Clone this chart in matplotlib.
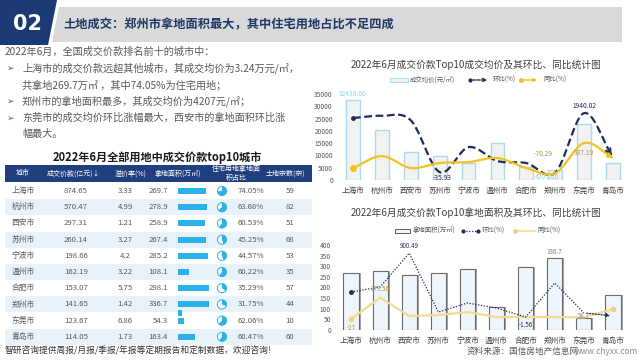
import numpy as np
import matplotlib.pyplot as plt
from matplotlib.patches import Rectangle, Polygon, Wedge, Circle

plt.rcParams['font.family'] = ['Noto Sans CJK SC', 'DejaVu Sans']

# ---- data ----
cities = ['上海市', '杭州市', '西安市', '苏州市', '宁波市', '温州市', '合肥市', '郑州市', '东莞市', '青岛市']
deal_value = [874.65, 570.47, 297.31, 260.14, 198.66, 162.19, 153.07, 141.65, 123.67, 114.05]
premium_rate = [3.33, 4.99, 1.21, 3.27, 4.2, 3.22, 5.75, 1.42, 6.86, 1.73]
land_area = [269.7, 278.9, 258.9, 267.4, 285.2, 108.1, 298.1, 336.7, 54.3, 163.4]
residential_share = [74.05, 63.68, 60.53, 45.25, 44.57, 60.22, 35.29, 31.75, 62.06, 60.47]
parcel_count = [59, 82, 51, 68, 53, 35, 57, 44, 10, 60]

avg_price = [32430, 20454, 11484, 9729, 6966, 15004, 5135, 4207, 22775, 6980]
price_mom = [1775, 1850, 1700, -35.93, 800, 335, 268, -50, 1940.02, 435]
price_yoy = [100, 500, 100, 270, 300, 435, 100, -70.29, 937.19, 435]
area_mom = [352, 423, 900.49, 70, 197, 127, -1.56, 480, 58.7, 14]
area_yoy = [-27, 273.56, 14, 28, 70, 0, 0, 0, -5, 113]

table_header = ['城市', '成交价款(亿元)↓', '溢价率(%)', '拿地面积(万㎡)', '住宅用地拿地面\n积占比', '土地宗数(宗)']
summary_lines = [
    ('', '2022年6月，全国成交价款排名前十的城市中：'),
    ('➢', '上海市的成交价款远超其他城市，其成交均价为3.24万元/㎡，'),
    ('', '共拿地269.7万㎡ ，其中74.05%为住宅用地；'),
    ('➢', '郑州市的拿地面积最多，其成交均价为4207元/㎡；'),
    ('➢', '东莞市的成交均价环比涨幅最大，西安市的拿地面积环比涨'),
    ('', '幅最大。'),
]

NAVY = '#1f2d5a'
GOLD = '#f2c220'
GOLD_TXT = '#b8962e'
BLUE = '#2cb0ea'
GRAY_TXT = '#595959'

fig = plt.figure(figsize=(6.4, 3.6), dpi=100)
fig.patch.set_facecolor('white')

bg = fig.add_axes([0, 0, 1, 1])
bg.set_xlim(0, 640)
bg.set_ylim(360, 0)
bg.axis('off')

# ---- header ----
bg.add_patch(Polygon([(58.5, 7), (622, 7), (622, 42), (51.5, 42)], color='#d9d9d9', lw=0))
bg.add_patch(Polygon([(0, 0), (57, 0), (48, 45), (0, 45)], color='#1b3a75', lw=0))
bg.text(27, 24, '02', color='white', fontsize=15, fontweight='bold', ha='center', va='center',
        family=['DejaVu Sans'])
bg.text(63, 25, '土地成交：郑州市拿地面积最大，其中住宅用地占比不足四成', color='#1f3864',
        fontsize=8.8, fontweight='bold', va='center')

# ---- summary text ----
for i, (bullet, line) in enumerate(summary_lines):
    y = 52 + i * 16.5
    x = 5 if i == 0 else 22
    if bullet:
        bg.text(7, y, bullet, fontsize=6.5, color=GRAY_TXT, va='center',
                family=['DejaVu Sans'])
    bg.text(x, y, line, fontsize=7.3, color=GRAY_TXT, va='center')

# ---- table ----
bg.text(157, 158, '2022年6月全部用地中成交价款top10城市', fontsize=8, fontweight='bold',
        color='#1a1a1a', ha='center', va='center')
bg.add_patch(Rectangle((5, 165), 307, 17, color='#1f3f7f', lw=0))
head_x = [23, 73, 131, 178, 236, 285]
for hx, h in zip(head_x, table_header):
    bg.text(hx, 173.5, h, color='white', fontsize=5.0, ha='center', va='center', linespacing=1.25)

row_h = 16.2
unit_px = 0.104
for i, city in enumerate(cities):
    yc = 191 + i * row_h
    if i % 2 == 1:
        bg.add_patch(Rectangle((5, yc - row_h / 2), 307, row_h, color='#e8f2fb', lw=0))
    kw = dict(fontsize=5.6, color=GRAY_TXT, va='center')
    bg.text(23, yc, city, ha='center', **kw)
    bg.text(76, yc, f'{deal_value[i]:.2f}', ha='center', **kw)
    bg.text(125, yc, f'{premium_rate[i]:g}', ha='center', **kw)
    bg.text(168, yc, f'{land_area[i]:.1f}', ha='right', **kw)
    # bar, wrapping after 300 units
    remaining = land_area[i]
    by = yc - 3
    while remaining > 0:
        seg = min(remaining, 300)
        bg.add_patch(Rectangle((178, by), seg * unit_px, 6, color=BLUE, lw=0))
        remaining -= seg
        by += 9
    # pie icon
    share = residential_share[i] / 100
    bg.add_patch(Circle((222, yc), 4.6, facecolor='white', edgecolor=BLUE, lw=0.7))
    bg.add_patch(Wedge((222, yc), 4.6, -90, -90 + share * 360, color=BLUE, lw=0))
    bg.text(251, yc, f'{residential_share[i]:.2f}%', ha='center', **kw)
    bg.text(290, yc, str(parcel_count[i]), ha='center', **kw)

bg.text(5, 351, '智研咨询提供周报/月报/季报/年报等定期报告和定制数据，欢迎咨询!', fontsize=6.3,
        color='#333333', va='center')
bg.text(467, 351, '资料来源：国信房地产信息网', fontsize=6.2, color='#595959', va='center')
bg.text(575, 351, 'www.chyxx.com', fontsize=6, color='#8c8c8c', va='center')


def px_axes(x0, y0, x1, y1):
    return fig.add_axes([x0 / 640, 1 - y1 / 360, (x1 - x0) / 640, (y1 - y0) / 360])


def smooth(ys, n=24):
    pts = np.column_stack([np.arange(len(ys), dtype=float), np.asarray(ys, dtype=float)])
    p = np.vstack([2 * pts[0] - pts[1], pts, 2 * pts[-1] - pts[-2]])
    t = np.linspace(0, 1, n, endpoint=False)[:, None]
    out = []
    for k in range(1, len(p) - 2):
        p0, p1, p2, p3 = p[k - 1], p[k], p[k + 1], p[k + 2]
        out.append(0.5 * (2 * p1 + (-p0 + p2) * t + (2 * p0 - 5 * p1 + 4 * p2 - p3) * t ** 2
                          + (-p0 + 3 * p1 - 3 * p2 + p3) * t ** 3))
    out.append(pts[-1][None])
    return np.vstack(out)


def style_axes(ax, ymax, step):
    for s in ax.spines.values():
        s.set_visible(False)
    ax.set_xlim(-0.5, 9.5)
    ax.set_ylim(0, ymax)
    ax.set_yticks(np.arange(0, ymax + 1, step))
    ax.set_xticks(range(len(cities)))
    ax.set_xticklabels(cities)
    ax.tick_params(axis='x', length=0, labelsize=5.5, labelcolor='#404040', pad=5)
    ax.tick_params(axis='y', length=0, labelsize=4.8, labelcolor=GRAY_TXT, pad=4)
    ax.patch.set_alpha(0)


x = np.arange(len(cities))

# ---- top chart: average price ----
bg.text(476, 65, '2022年6月成交价款Top10成交均价及其环比、同比统计图', fontsize=7,
        color='#404040', ha='center', va='center')
ax1 = px_axes(338.5, 94, 627.5, 180)
style_axes(ax1, 35000, 5000)
ax1.bar(x, avg_price, 0.48, facecolor='#f2f2f2', edgecolor='#a9dcef', lw=1.0)
ax1.annotate('32430.00', (0, avg_price[0]), xytext=(0, 2), textcoords='offset points',
             ha='center', va='bottom', fontsize=4.8, color='#8fd3ea')
ax1.annotate('4207.00', (7, avg_price[7]), xytext=(-6, -5), textcoords='offset points',
             ha='center', va='center', fontsize=4.8, color='#8fd3ea')

ax1b = ax1.twinx()
ax1b.set_ylim(-300, 2580)
ax1b.axis('off')
c = smooth(price_mom)
ax1b.plot(c[:-2, 0], c[:-2, 1], color=NAVY, lw=1.6, ls=(0, (3.5, 1.6)))
ax1b.plot(0, price_mom[0], 'o', color=NAVY, ms=2.5)
ax1b.annotate('', xy=c[-1], xytext=c[-4], arrowprops=dict(arrowstyle='->', color=NAVY, lw=1.4,
                                                           mutation_scale=9))
c = smooth(price_yoy)
ax1b.plot(c[:-2, 0], c[:-2, 1], color=GOLD, lw=1.6)
ax1b.plot(0, price_yoy[0], 'o', color=GOLD, ms=4)
ax1b.annotate('', xy=c[-1], xytext=c[-4], arrowprops=dict(arrowstyle='-|>', color=GOLD, lw=1.4,
                                                           mutation_scale=7))
ax1b.annotate('-35.93', (3, price_mom[3]), xytext=(2, -4), textcoords='offset points',
              ha='center', va='center', fontsize=4.8, color=NAVY)
ax1b.annotate('1940.02', (8, price_mom[8]), xytext=(0, 5), textcoords='offset points',
              ha='center', va='center', fontsize=4.8, color=NAVY)
ax1b.annotate('-70.29', (7, price_yoy[7]), xytext=(-9, 14), textcoords='offset points',
              ha='center', va='center', fontsize=4.8, color=GOLD_TXT)
ax1b.annotate('937.19', (8, price_yoy[8]), xytext=(0, -7), textcoords='offset points',
              ha='center', va='center', fontsize=4.8, color=GOLD_TXT)

# legend (top)
bg.add_patch(Rectangle((390, 78), 18, 4, facecolor='#f2f2f2', edgecolor='#a9dcef', lw=0.7))
bg.text(410, 80, '成交均价(元/㎡)', fontsize=4.6, color=GRAY_TXT, va='center')
bg.plot(470, 80, 'o', color=NAVY, ms=2)
bg.annotate('', xy=(490, 80), xytext=(470, 80),
            arrowprops=dict(arrowstyle='->', color=NAVY, lw=1, ls=(0, (2, 1)), mutation_scale=6))
bg.text(493, 80, '环比(%)', fontsize=4.6, color=GRAY_TXT, va='center')
bg.plot(521, 80, 'o', color=GOLD, ms=2.5)
bg.annotate('', xy=(540, 80), xytext=(521, 80),
            arrowprops=dict(arrowstyle='-|>', color=GOLD, lw=1, mutation_scale=5))
bg.text(543, 80, '同比(%)', fontsize=4.6, color=GRAY_TXT, va='center')

# ---- bottom chart: land area ----
bg.text(476, 213, '2022年6月成交价款Top10拿地面积及其环比、同比统计图', fontsize=7,
        color='#404040', ha='center', va='center')
ax2 = px_axes(336.5, 245, 627.5, 330)
style_axes(ax2, 400, 50)
ax2.bar(x + 0.07, land_area, 0.52, color='#a6a6a6', lw=0)
ax2.bar(x, land_area, 0.52, facecolor='#eef6fd', edgecolor='#6b6b6b', lw=0.8)
ax2.annotate('336.7', (7, land_area[7]), xytext=(0, 5), textcoords='offset points',
             ha='center', va='center', fontsize=4.5, color='#7f7f7f')

ax2b = ax2.twinx()
ax2b.set_ylim(-183, 1015)
ax2b.axis('off')
ax2b.plot(x, area_yoy, color='#f3dc8e', lw=1.6)
ax2b.plot([0, 9], [area_yoy[0], area_yoy[9]], 'o', color='#f3d27a', ms=3)
ax2b.plot(x[:-1], area_mom[:-1], color=NAVY, lw=0.9, ls=(0, (1, 1.3)))
ax2b.plot(0, area_mom[0], 'o', color=NAVY, ms=2.5)
ax2b.annotate('', xy=(9, area_mom[9]), xytext=(8, area_mom[8]),
              arrowprops=dict(arrowstyle='-|>', color=NAVY, lw=0.9, ls=(0, (1, 1.3)),
                              mutation_scale=5))
ax2b.annotate('900.49', (2, area_mom[2]), xytext=(0, 5), textcoords='offset points',
              ha='center', va='center', fontsize=4.5, color=NAVY)
ax2b.annotate('-1.56', (6, area_mom[6]), xytext=(0, -6), textcoords='offset points',
              ha='center', va='center', fontsize=4.5, color=NAVY)
ax2b.annotate('58.7', (8, area_mom[8]), xytext=(0, -2), textcoords='offset points',
              ha='center', va='center', fontsize=4.5, color='#8c8c8c')
ax2b.annotate('273.56', (1, area_yoy[1]), xytext=(0, 6), textcoords='offset points',
              ha='center', va='center', fontsize=4.5, color=GOLD_TXT)
ax2b.annotate('-27', (0, area_yoy[0]), xytext=(0, -6.5), textcoords='offset points',
              ha='center', va='center', fontsize=4.5, color=GOLD_TXT)

# legend (bottom)
bg.add_patch(Rectangle((395, 229), 15, 4, facecolor='#eef6fd', edgecolor='#595959', lw=0.7))
bg.text(413, 231, '拿地面积(万㎡)', fontsize=4.6, color=GRAY_TXT, va='center')
bg.plot([463, 478], [231, 231], color=NAVY, lw=0.9, ls=(0, (1, 1.3)))
bg.plot([463, 478], [231, 231], 'o', color=NAVY, ms=2)
bg.text(482, 231, '环比(%)', fontsize=4.6, color=GRAY_TXT, va='center')
bg.plot([515, 535], [231, 231], color='#f3dc8e', lw=1.2)
bg.plot(515, 231, 'o', color='#f3d27a', ms=2.5)
bg.text(537, 231, '同比(%)', fontsize=4.6, color=GRAY_TXT, va='center')

fig.savefig('out.png', dpi=100)
